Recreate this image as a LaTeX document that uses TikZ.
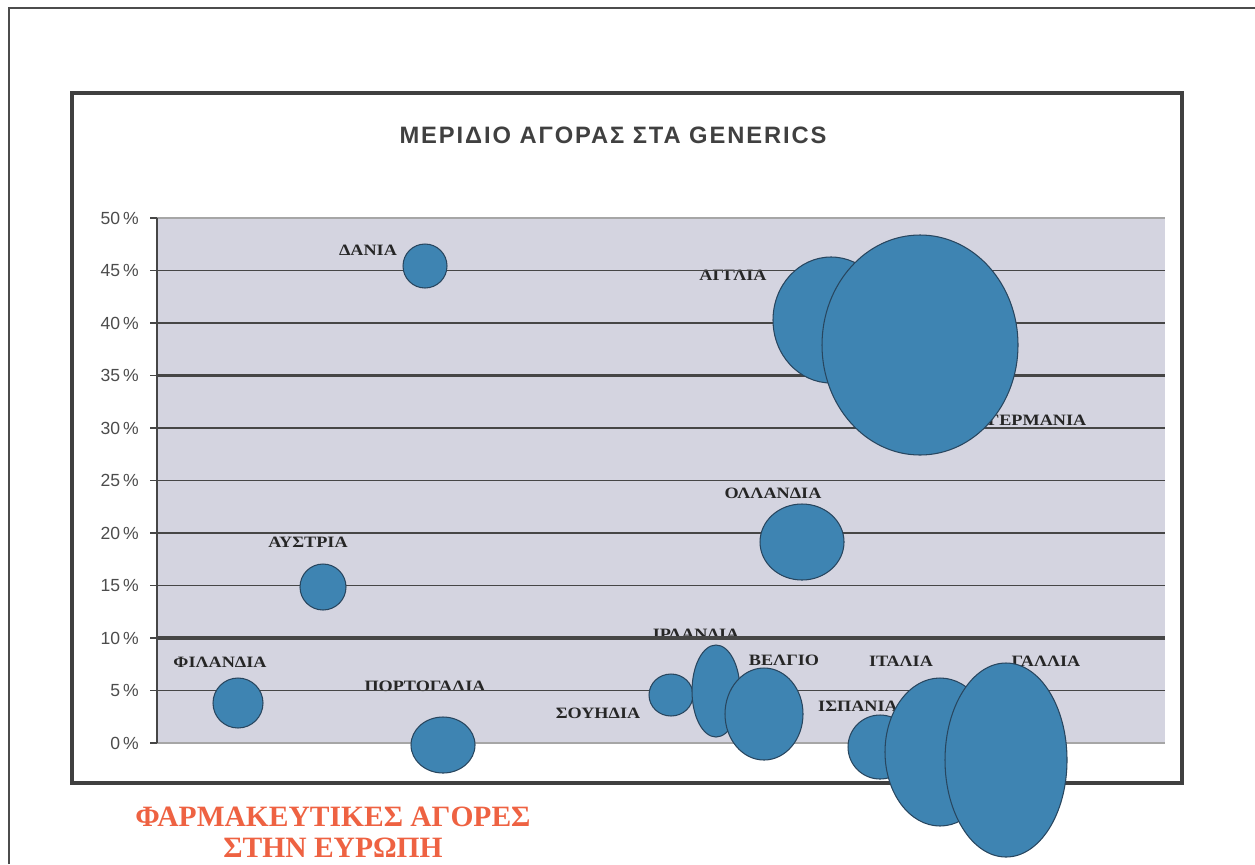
\documentclass[tikz,border=0pt]{standalone}
\usepackage{fontspec}
\setmainfont{Liberation Serif}
\newfontfamily\chartsans{Liberation Sans}
\newfontfamily\countryfont[FakeStretch=1.15]{Liberation Serif}
\newfontfamily\titlefont[LetterSpace=8]{Liberation Sans}
\usetikzlibrary{shapes.geometric}
\definecolor{plotbg}{RGB}{212,212,224}
\definecolor{bubblefill}{RGB}{62,132,178}
\definecolor{bubbleline}{RGB}{40,70,95}
\definecolor{gridgray}{RGB}{70,70,70}
\definecolor{captionred}{RGB}{238,98,66}
\begin{document}
\begin{tikzpicture}
  [x=0.2mm,y=-0.2mm,
   bubble/.style 2 args={ellipse,draw=bubbleline,fill=bubblefill,line width=0.6pt,inner sep=0pt,minimum width=#1*0.4mm,minimum height=#2*0.4mm},
   country/.style={font=\countryfont\fontsize{9}{10}\selectfont\bfseries,text=black!85,inner sep=0pt},
   pct/.style={font=\chartsans\fontsize{10}{11}\selectfont,text=black!70,anchor=east,inner sep=0pt},
   gridline/.style={draw=gridgray,line width=1.1pt}
  ]
  \useasboundingbox (0,0) rectangle (1255,864);
  % frames
  \draw[line width=1.2pt,gray!60!black] (9,864) -- (9,8) -- (1255,8);
  \draw[line width=1.8pt,gray!50!black] (72,93) rectangle (1182,783);
  \fill[plotbg] (157,218) rectangle (1165,743);
  \node[font=\titlefont\bfseries\fontsize{13.5}{15}\selectfont,text=black!75] (title) at (613,135) {ΜΕΡΙΔΙΟ ΑΓΟΡΑΣ ΣΤΑ GENERICS};

  % country labels
  \node[country] (lblDania) at (368,250) {ΔΑΝΙΑ};
  \node[country] (lblAustria) at (308,542) {ΑΥΣΤΡΙΑ};
  \node[country] (lblFinland) at (220,662) {ΦΙΛΑΝΔΙΑ};
  \node[country] (lblPortugal) at (425,686) {ΠΟΡΤΟΓΑΛΙΑ};
  \node[country] (lblAnglia) at (733,275) {ΑΓΓΛΙΑ};
  \node[country] (lblGermany) at (1037,420) {ΓΕΡΜΑΝΙΑ};
  \node[country] (lblHolland) at (773,493) {ΟΛΛΑΝΔΙΑ};
  \node[country] (lblIreland) at (696,634) {ΙΡΛΑΝΔΙΑ};
  \node[country] (lblBelgium) at (784,660) {ΒΕΛΓΙΟ};
  \node[country] (lblSweden) at (598,713) {ΣΟΥΗΔΙΑ};
  \node[country] (lblItaly) at (901,661) {ΙΤΑΛΙΑ};
  \node[country] (lblSpain) at (858,706) {ΙΣΠΑΝΙΑ};
  \node[country] (lblFrance) at (1046,661) {ΓΑΛΛΙΑ};

  % grid and axis
  \draw[gridline,draw=gray!70] (157,218) -- (1165,218);
  \draw[gridline,draw=gray!70] (157,743) -- (1165,743);
  \foreach \p in {1,...,9}
    \draw[gridline] (157,{743-52.5*\p}) -- (1165,{743-52.5*\p});
  \foreach \p in {2,7}
    \draw[gridline,line width=2.2pt] (157,{743-52.5*\p}) -- (1165,{743-52.5*\p});
  \draw[gridline,line width=1.4pt] (157,218) -- (157,743);
  \foreach \p in {0,...,10}{
    \draw[gridline] (150,{743-52.5*\p}) -- (157,{743-52.5*\p});
    \node[pct] (pct\p) at (139,{743-52.5*\p}) {\the\numexpr\p*5\relax\,\%};
  }

  % bubbles
  \node[bubble={22}{22}] (dania) at (425,266) {};
  \node[bubble={23}{23}] (austria) at (323,587) {};
  \node[bubble={25}{25}] (finland) at (238,703) {};
  \node[bubble={32}{28}] (portugal) at (443,745) {};
  \node[bubble={42}{38}] (holland) at (802,542) {};
  \node[bubble={22}{21}] (sweden) at (671,695) {};
  \node[bubble={24}{46}] (ireland) at (716,691) {};
  \node[bubble={39}{46}] (belgium) at (764,714) {};
  \node[bubble={32}{32}] (spain) at (880,747) {};
  \node[bubble={55}{74}] (italy) at (940,752) {};
  \node[bubble={61}{97}] (france) at (1006,760) {};
  \node[bubble={58}{63}] (anglia) at (831,320) {};
  \node[bubble={98}{110}] (germany) at (920,345) {};

  \node[align=center,font=\fontsize{16.8}{17.6}\selectfont\bfseries,text=captionred] (caption) at (333,832) {ΦΑΡΜΑΚΕΥΤΙΚΕΣ ΑΓΟΡΕΣ\\ΣΤΗΝ ΕΥΡΩΠΗ};
\end{tikzpicture}
\end{document}
